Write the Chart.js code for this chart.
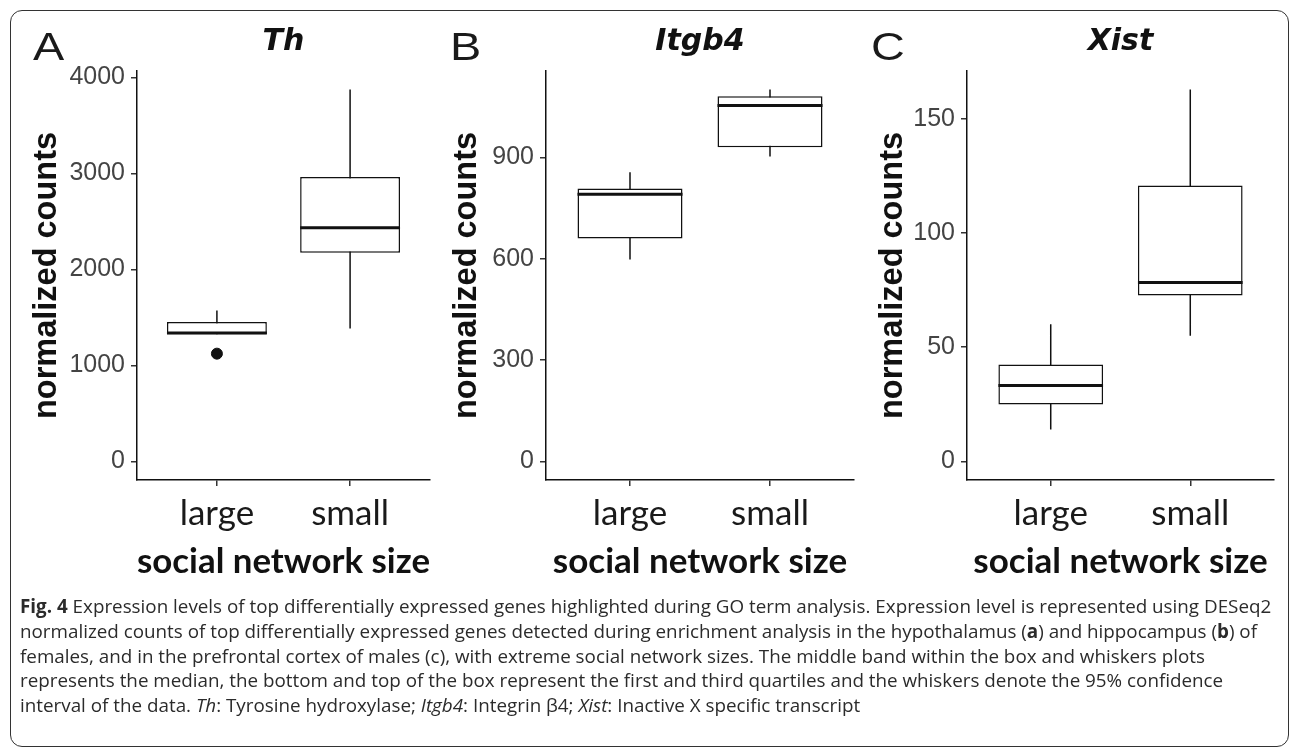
<!DOCTYPE html>
<html>
<head>
<meta charset="utf-8">
<script src="https://cdn.jsdelivr.net/npm/chart.js@4.4.1/dist/chart.umd.min.js"></script>
<style>
  body { margin: 0; background: #fff; }
  #page { position: relative; width: 1290px; height: 749px; overflow: hidden; }
  .frame { position: absolute; left: 10px; top: 10px; width: 1277px; height: 735px; border: 1.5px solid #333; border-radius: 12px; }
  canvas { position: absolute; top: 20px; }
  .tag { position: absolute; top: 27px; font: 39px 'Liberation Sans', Arial, sans-serif; color: #1a1a1a; line-height: 1; transform: scaleX(1.2); transform-origin: left top; }
  #caption { position: absolute; left: 20px; top: 594px; font-family: 'Open Sans', sans-serif; font-size: 17px; color: #2b2b2b; line-height: 24.75px; white-space: nowrap; }
  #caption div { width: max-content; }
</style>
</head>
<body>
<div id="page">
  <div class="frame"></div>
  <canvas id="chartTh" width="420" height="590" style="left:20px"></canvas>
  <canvas id="chartItgb4" width="420" height="590" style="left:440px"></canvas>
  <canvas id="chartXist" width="425" height="590" style="left:860px"></canvas>
  <div class="tag" style="left:33px">A</div>
  <div class="tag" style="left:450px">B</div>
  <div class="tag" style="left:871px">C</div>
  <div id="caption">
    <div><b>Fig. 4</b> Expression levels of top differentially expressed genes highlighted during GO term analysis. Expression level is represented using DESeq2</div>
    <div>normalized counts of top differentially expressed genes detected during enrichment analysis in the hypothalamus (<b>a</b>) and hippocampus (<b>b</b>) of</div>
    <div>females, and in the prefrontal cortex of males (c), with extreme social network sizes. The middle band within the box and whiskers plots</div>
    <div>represents the median, the bottom and top of the box represent the first and third quartiles and the whiskers denote the 95% confidence</div>
    <div>interval of the data. <i>Th</i>: Tyrosine hydroxylase; <i>Itgb4</i>: Integrin β4; <i>Xist</i>: Inactive X specific transcript</div>
  </div>
</div>
<script>
const groups = ['large', 'small'];

// A - Th (hypothalamus)
const thLower = [1325, 1385];
const thQ1 = [1325, 2175];
const thMedian = [1338, 2435];
const thQ3 = [1453, 2965];
const thUpper = [1574, 3875];
const thOutliers = [[1123], []];
const thTicks = [0, 1000, 2000, 3000, 4000];

// B - Itgb4 (hippocampus)
const itLower = [598, 903];
const itQ1 = [660, 930];
const itMedian = [791, 1054];
const itQ3 = [808, 1081];
const itUpper = [856, 1101];
const itOutliers = [[], []];
const itTicks = [0, 300, 600, 900];

// C - Xist (prefrontal cortex)
const xiLower = [14, 55];
const xiQ1 = [24.9, 72.6];
const xiMedian = [33.2, 78.3];
const xiQ3 = [42.4, 120.7];
const xiUpper = [60, 162.7];
const xiOutliers = [[], []];
const xiTicks = [0, 50, 100, 150];

const ink = '#111';
const boxWidth = 0.75;
const canvasTop = 20, canvasHeight = 590, plotTop = 71, plotBottom = 480;

function boxplot(canvasId, title, ticks, lower, q1, median, q3, upper, outliers, place) {
    const ctx = document.getElementById(canvasId).getContext('2d');
    const top = Math.max(...upper, ...outliers.flat());
    const expand = top * 0.05;   // ggplot style: 5% each side, range includes 0

    const whiskers = groups.flatMap((g, i) => [
        { x: i + 1, y: lower[i] }, { x: i + 1, y: upper[i] }, { x: i + 1.5, y: null }
    ]);
    const medians = groups.flatMap((g, i) => [
        { x: i + 1 - boxWidth / 2, y: median[i] }, { x: i + 1 + boxWidth / 2, y: median[i] }, { x: i + 1.5, y: null }
    ]);
    const points = groups.flatMap((g, i) => outliers[i].map(v => ({ x: i + 1, y: v })));

    new Chart(ctx, {
        type: 'bar',
        data: {
            datasets: [
                { type: 'line', data: medians, borderColor: ink, borderWidth: 3, pointRadius: 0, spanGaps: false, order: 0 },
                { type: 'line', data: points, showLine: false, pointRadius: 5.5, pointBackgroundColor: ink, pointBorderColor: ink, order: 1 },
                {
                    type: 'bar',
                    data: groups.map((g, i) => ({ x: i + 1, y: [q1[i], q3[i]] })),
                    backgroundColor: '#fff', borderColor: ink, borderWidth: 1.5, borderSkipped: false,
                    barPercentage: boxWidth, categoryPercentage: 1, grouped: false, order: 2
                },
                { type: 'line', data: whiskers, borderColor: ink, borderWidth: 1.5, pointRadius: 0, spanGaps: false, order: 3 }
            ]
        },
        options: {
            responsive: false,
            animation: false,
            devicePixelRatio: 1,
            layout: { padding: { left: 0, top: 0, bottom: 0, right: place.width - (place.plotRight - place.left) } },
            plugins: {
                legend: { display: false },
                tooltip: { enabled: false },
                title: {
                    display: true, text: title, fullSize: false, color: ink,
                    font: { family: 'DejaVu Sans', size: 30, weight: 'bold', style: 'italic', lineHeight: 1.2 },
                    padding: { top: 4.6, bottom: (plotTop - canvasTop) - 4.6 - 36 }
                }
            },
            scales: {
                x: {
                    type: 'linear', min: 0.4, max: 2.6, offset: false,
                    afterBuildTicks: ax => { ax.ticks = groups.map((g, i) => ({ value: i + 1 })); },
                    afterFit: ax => { ax.height = canvasHeight - (plotBottom - canvasTop); },
                    grid: { drawOnChartArea: false, offset: false, tickLength: 6, color: '#333', lineWidth: 1.5 },
                    border: { display: true, color: ink, width: 1.5 },
                    ticks: {
                        color: '#1a1a1a', padding: 7, maxRotation: 0, autoSkip: false,
                        font: { family: 'Lato', size: 35 },
                        callback: v => groups[v - 1]
                    },
                    title: {
                        display: true, text: 'social network size', color: ink,
                        font: { family: 'Lato', size: 35, weight: 'bold', lineHeight: 1.2 },
                        padding: { top: 0, bottom: 27 }
                    }
                },
                y: {
                    min: -expand, max: top + expand,
                    afterBuildTicks: ax => { ax.ticks = ticks.map(v => ({ value: v })); },
                    afterFit: ax => { ax.width = place.plotLeft - place.left; },
                    grid: { drawOnChartArea: false, tickLength: 6, color: '#333', lineWidth: 1.5 },
                    border: { display: true, color: ink, width: 1.5 },
                    ticks: {
                        color: '#444', padding: 6,
                        font: { family: 'Liberation Sans', size: 25 },
                        callback: v => String(v)
                    },
                    title: {
                        display: true, text: 'normalized counts', color: ink,
                        font: { family: 'Liberation Sans', size: 32.5, weight: 'bold', lineHeight: 1.2 },
                        padding: { top: place.yTitle - place.left - 19.5, bottom: 0 }
                    }
                }
            }
        }
    });
}

function fitCaption() {
    const cap = document.getElementById('caption');
    const first = cap.querySelector('div');
    const w = first.getBoundingClientRect().width;
    cap.style.fontSize = (17 * 1252 / w) + 'px';
}

fitCaption();
boxplot('chartTh', 'Th', thTicks, thLower, thQ1, thMedian, thQ3, thUpper, thOutliers,
    { left: 20, width: 420, plotLeft: 137, plotRight: 430, yTitle: 47 });
boxplot('chartItgb4', 'Itgb4', itTicks, itLower, itQ1, itMedian, itQ3, itUpper, itOutliers,
    { left: 440, width: 420, plotLeft: 546, plotRight: 854, yTitle: 467 });
boxplot('chartXist', 'Xist', xiTicks, xiLower, xiQ1, xiMedian, xiQ3, xiUpper, xiOutliers,
    { left: 860, width: 425, plotLeft: 967, plotRight: 1274, yTitle: 893 });
</script>
</body>
</html>
